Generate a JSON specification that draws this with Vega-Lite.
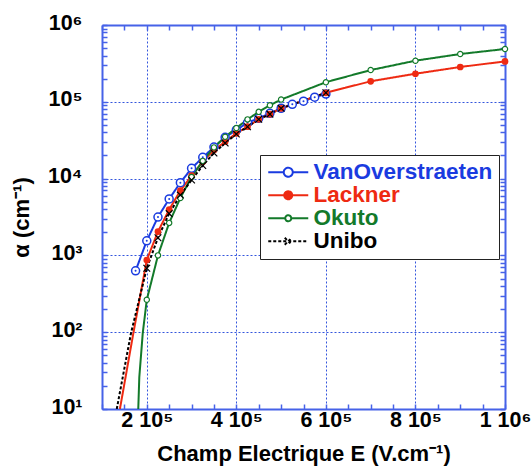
{
  "$schema": "https://vega.github.io/schema/vega-lite/v6.json",
  "width": 403,
  "height": 384,
  "autosize": {"type": "none"},
  "padding": {"left": 102, "top": 25, "right": 26, "bottom": 61},
  "background": "white",
  "config": {"view": {"stroke": null}, "font": "Liberation Sans"},
  "data": {"values": [
    {"s": "VanOverstraeten", "E": 175000, "a": 630},
    {"s": "VanOverstraeten", "E": 200000, "a": 1550},
    {"s": "VanOverstraeten", "E": 225000, "a": 3160},
    {"s": "VanOverstraeten", "E": 250000, "a": 5430},
    {"s": "VanOverstraeten", "E": 275000, "a": 8850},
    {"s": "VanOverstraeten", "E": 300000, "a": 13600},
    {"s": "VanOverstraeten", "E": 325000, "a": 18900},
    {"s": "VanOverstraeten", "E": 350000, "a": 25700},
    {"s": "VanOverstraeten", "E": 375000, "a": 34500},
    {"s": "VanOverstraeten", "E": 400000, "a": 43000},
    {"s": "VanOverstraeten", "E": 425000, "a": 53400},
    {"s": "VanOverstraeten", "E": 450000, "a": 61000},
    {"s": "VanOverstraeten", "E": 475000, "a": 70800},
    {"s": "VanOverstraeten", "E": 500000, "a": 82200},
    {"s": "VanOverstraeten", "E": 525000, "a": 92700},
    {"s": "VanOverstraeten", "E": 550000, "a": 102000},
    {"s": "VanOverstraeten", "E": 575000, "a": 115000},
    {"s": "VanOverstraeten", "E": 600000, "a": 126000},
    {"s": "Lackner", "E": 140000, "a": 10},
    {"s": "Lackner", "E": 170000, "a": 97},
    {"s": "Lackner", "E": 200000, "a": 870},
    {"s": "Lackner", "E": 225000, "a": 2040},
    {"s": "Lackner", "E": 250000, "a": 3950},
    {"s": "Lackner", "E": 275000, "a": 6970},
    {"s": "Lackner", "E": 300000, "a": 10900},
    {"s": "Lackner", "E": 325000, "a": 16600},
    {"s": "Lackner", "E": 350000, "a": 23500},
    {"s": "Lackner", "E": 375000, "a": 30200},
    {"s": "Lackner", "E": 400000, "a": 38900},
    {"s": "Lackner", "E": 425000, "a": 47400},
    {"s": "Lackner", "E": 450000, "a": 59100},
    {"s": "Lackner", "E": 475000, "a": 69100},
    {"s": "Lackner", "E": 500000, "a": 82200},
    {"s": "Lackner", "E": 600000, "a": 131000},
    {"s": "Lackner", "E": 700000, "a": 185000},
    {"s": "Lackner", "E": 800000, "a": 232000},
    {"s": "Lackner", "E": 900000, "a": 284000},
    {"s": "Lackner", "E": 1000000, "a": 336000},
    {"s": "Okuto", "E": 181000, "a": 10},
    {"s": "Okuto", "E": 183300, "a": 26},
    {"s": "Okuto", "E": 191000, "a": 97},
    {"s": "Okuto", "E": 200000, "a": 264},
    {"s": "Okuto", "E": 225000, "a": 1000},
    {"s": "Okuto", "E": 250000, "a": 2650},
    {"s": "Okuto", "E": 275000, "a": 5600},
    {"s": "Okuto", "E": 300000, "a": 10500},
    {"s": "Okuto", "E": 325000, "a": 17000},
    {"s": "Okuto", "E": 350000, "a": 25500},
    {"s": "Okuto", "E": 375000, "a": 35000},
    {"s": "Okuto", "E": 400000, "a": 45500},
    {"s": "Okuto", "E": 425000, "a": 59000},
    {"s": "Okuto", "E": 450000, "a": 74000},
    {"s": "Okuto", "E": 475000, "a": 90000},
    {"s": "Okuto", "E": 500000, "a": 107000},
    {"s": "Okuto", "E": 600000, "a": 180000},
    {"s": "Okuto", "E": 700000, "a": 259000},
    {"s": "Okuto", "E": 800000, "a": 343000},
    {"s": "Okuto", "E": 900000, "a": 419000},
    {"s": "Okuto", "E": 1000000, "a": 487000},
    {"s": "Unibo", "E": 133000, "a": 10},
    {"s": "Unibo", "E": 164700, "a": 97},
    {"s": "Unibo", "E": 200000, "a": 680},
    {"s": "Unibo", "E": 225000, "a": 1700},
    {"s": "Unibo", "E": 250000, "a": 3500},
    {"s": "Unibo", "E": 275000, "a": 6100},
    {"s": "Unibo", "E": 300000, "a": 9600},
    {"s": "Unibo", "E": 325000, "a": 14800},
    {"s": "Unibo", "E": 350000, "a": 21500},
    {"s": "Unibo", "E": 375000, "a": 29000},
    {"s": "Unibo", "E": 400000, "a": 38000},
    {"s": "Unibo", "E": 425000, "a": 47400},
    {"s": "Unibo", "E": 450000, "a": 59100},
    {"s": "Unibo", "E": 475000, "a": 69100},
    {"s": "Unibo", "E": 500000, "a": 82200},
    {"s": "Unibo", "E": 600000, "a": 131000}
  ]},
  "resolve": {"axis": {"x": "independent", "y": "independent"}},
  "layer": [
    {
      "mark": {"type": "line", "strokeWidth": 2, "clip": true},
      "encoding": {
        "x": {"field": "E", "type": "quantitative",
          "scale": {"domain": [100000, 1000000], "nice": false, "zero": false},
          "axis": {
            "orient": "bottom",
            "values": [100000,150000,200000,250000,300000,350000,400000,450000,500000,550000,600000,650000,700000,750000,800000,850000,900000,950000,1000000],
            "labelExpr": "datum.value % 200000 == 0 ? (datum.value == 1000000 ? '1 10⁶' : (datum.value / 100000) + ' 10⁵') : ''",
            "labelOverlap": false, "labelFlush": false,
            "tickSize": -5, "labelPadding": 5,
            "labelFontSize": 21.5, "labelFontWeight": "bold", "labelColor": "black", "labelFont": "Liberation Sans",
            "grid": true, "gridDash": [2, 2], "gridColor": "#3355dd", "gridWidth": 1,
            "gridOpacity": {"condition": {"test": "datum.value % 200000 == 0 && datum.value < 1000000", "value": 1}, "value": 0},
            "domainColor": "#4662e8", "domainWidth": 2, "tickColor": "#4662e8", "tickWidth": 1.5,
            "title": "Champ Electrique E (V.cm⁻¹)", "titleFontSize": 22, "titleFontWeight": "bold", "titleFont": "Liberation Sans", "titleColor": "black", "titlePadding": 13
          }
        },
        "y": {"field": "a", "type": "quantitative",
          "scale": {"type": "log", "domain": [10, 1000000], "nice": false},
          "axis": {
            "orient": "left",
            "values": [10,20,30,40,50,60,70,80,90,100,200,300,400,500,600,700,800,900,1000,2000,3000,4000,5000,6000,7000,8000,9000,10000,20000,30000,40000,50000,60000,70000,80000,90000,100000,200000,300000,400000,500000,600000,700000,800000,900000,1000000],
            "labelExpr": "datum.value == 10 ? '10¹' : datum.value == 100 ? '10²' : datum.value == 1000 ? '10³' : datum.value == 10000 ? '10⁴' : datum.value == 100000 ? '10⁵' : datum.value == 1000000 ? '10⁶' : ''",
            "labelOverlap": false, "labelFlush": false,
            "tickSize": -5, "labelPadding": 25, "labelOffset": -2,
            "labelFontSize": 21.5, "labelFontWeight": "bold", "labelColor": "black", "labelFont": "Liberation Sans",
            "grid": true, "gridDash": [2, 2], "gridColor": "#3355dd", "gridWidth": 1,
            "gridOpacity": {"condition": {"test": "indexof([100, 1000, 10000, 100000], datum.value) >= 0", "value": 1}, "value": 0},
            "domainColor": "#4662e8", "domainWidth": 2, "tickColor": "#4662e8", "tickWidth": 1.5,
            "title": "α (cm⁻¹)", "titleFontSize": 22, "titleFontWeight": "bold", "titleFont": "Liberation Sans", "titleColor": "black", "titlePadding": 14
          }
        },
        "color": {"field": "s", "type": "nominal",
          "scale": {"domain": ["VanOverstraeten", "Lackner", "Okuto", "Unibo"], "range": ["#1a3be0", "#ee2a12", "#137a2a", "#000000"]},
          "legend": {
            "orient": "none", "legendX": 158, "legendY": 130, "title": null,
            "symbolSize": 400, "symbolOffset": 11, "labelOffset": 14, "rowPadding": -2,
            "symbolStrokeWidth": 2,
            "symbolType": {"expr": "datum.value === 'Unibo' ? 'M-2,0H2M-0.35,-0.35L0.35,0.35M-0.35,0.35L0.35,-0.35' : datum.value === 'Okuto' ? 'M-2,0H-0.3M0.3,0H2M-0.3,0A0.3,0.3,0,1,1,0.3,0A0.3,0.3,0,1,1,-0.3,0Z' : datum.value === 'Lackner' ? 'M-2,0H-0.4M0.4,0H2M-0.4,0A0.4,0.4,0,1,1,0.4,0A0.4,0.4,0,1,1,-0.4,0Z' : 'M-2,0H-0.45M0.45,0H2M-0.45,0A0.45,0.45,0,1,1,0.45,0A0.45,0.45,0,1,1,-0.45,0Z'"},
            "symbolFillColor": {"expr": "datum.value === 'Lackner' ? '#ee2a12' : 'white'"},
            "symbolDash": {"expr": "datum.value === 'Unibo' ? [3, 2] : [1, 0]"},
            "labelColor": {"expr": "datum.value === 'VanOverstraeten' ? '#1a3be0' : datum.value === 'Lackner' ? '#ee2a12' : datum.value === 'Okuto' ? '#137a2a' : '#000000'"},
            "labelFontSize": 22.5, "labelFontWeight": "bold", "labelFont": "Liberation Sans", "labelLimit": 300,
            "padding": 6, "strokeColor": "#222222", "fillColor": "white"
          }
        },
        "strokeDash": {"field": "s", "type": "nominal",
          "scale": {"domain": ["VanOverstraeten", "Lackner", "Okuto", "Unibo"], "range": [[1, 0], [1, 0], [1, 0], [3, 2]]},
          "legend": null
        }
      }
    },
    {
      "transform": [{"filter": "datum.s === 'VanOverstraeten'"}],
      "mark": {"type": "point", "shape": "circle", "filled": true, "fill": "white", "stroke": "#1a3be0", "strokeWidth": 1.5, "size": 64, "opacity": 1},
      "encoding": {
        "x": {"field": "E", "type": "quantitative", "axis": null},
        "y": {"field": "a", "type": "quantitative", "scale": {"type": "log"}, "axis": null}
      }
    },
    {
      "transform": [{"filter": "datum.s === 'VanOverstraeten'"}],
      "mark": {"type": "circle", "color": "#1a3be0", "size": 4, "opacity": 1},
      "encoding": {
        "x": {"field": "E", "type": "quantitative", "axis": null},
        "y": {"field": "a", "type": "quantitative", "scale": {"type": "log"}, "axis": null}
      }
    },
    {
      "transform": [{"filter": "datum.s === 'Lackner' && datum.E >= 200000"}],
      "mark": {"type": "circle", "color": "#ee2a12", "size": 45, "opacity": 1},
      "encoding": {
        "x": {"field": "E", "type": "quantitative", "axis": null},
        "y": {"field": "a", "type": "quantitative", "scale": {"type": "log"}, "axis": null}
      }
    },
    {
      "transform": [{"filter": "datum.s === 'Okuto' && datum.E >= 200000"}],
      "mark": {"type": "point", "shape": "circle", "filled": true, "fill": "white", "stroke": "#137a2a", "strokeWidth": 1.2, "size": 28, "opacity": 1},
      "encoding": {
        "x": {"field": "E", "type": "quantitative", "axis": null},
        "y": {"field": "a", "type": "quantitative", "scale": {"type": "log"}, "axis": null}
      }
    },
    {
      "transform": [{"filter": "datum.s === 'Unibo' && datum.E >= 200000"}],
      "mark": {"type": "point", "shape": "M-1,-1L1,1M-1,1L1,-1", "filled": false, "stroke": "#000000", "strokeWidth": 1.2, "size": 45, "opacity": 1},
      "encoding": {
        "x": {"field": "E", "type": "quantitative",
          "axis": {
            "orient": "top",
            "values": [100000,150000,200000,250000,300000,350000,400000,450000,500000,550000,600000,650000,700000,750000,800000,850000,900000,950000,1000000],
            "labels": false, "title": null, "grid": false,
            "tickSize": -5, "domainColor": "#4662e8", "domainWidth": 2, "tickColor": "#4662e8", "tickWidth": 1.5
          }
        },
        "y": {"field": "a", "type": "quantitative", "scale": {"type": "log"},
          "axis": {
            "orient": "right",
            "values": [10,20,30,40,50,60,70,80,90,100,200,300,400,500,600,700,800,900,1000,2000,3000,4000,5000,6000,7000,8000,9000,10000,20000,30000,40000,50000,60000,70000,80000,90000,100000,200000,300000,400000,500000,600000,700000,800000,900000,1000000],
            "labels": false, "title": null, "grid": false,
            "tickSize": -5, "domainColor": "#4662e8", "domainWidth": 2, "tickColor": "#4662e8", "tickWidth": 1.5
          }
        }
      }
    }
  ]
}
